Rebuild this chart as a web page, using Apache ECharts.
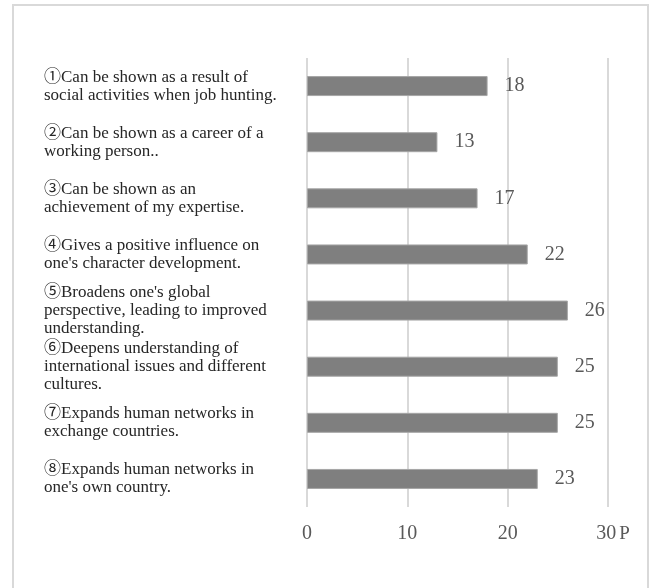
<!DOCTYPE html>
<html>
<head>
<meta charset="utf-8">
<script src="https://cdn.jsdelivr.net/npm/echarts@6/dist/echarts.min.js"></script>
<style>
  html, body { margin: 0; padding: 0; background: #ffffff; }
  #chart { width: 652px; height: 588px; }
</style>
</head>
<body>
<div id="chart"></div>
<script>
// Survey items (top to bottom) and number of responses
const categories = [
  "①Can be shown as a result of\nsocial activities when job hunting.",
  "②Can be shown as a career of a\nworking person..",
  "③Can be shown as an\nachievement of my expertise.",
  "④Gives a positive influence on\none's character development.",
  "⑤Broadens one's global\nperspective, leading to improved\nunderstanding.",
  "⑥Deepens understanding of\ninternational issues and different\ncultures.",
  "⑦Expands human networks in\nexchange countries.",
  "⑧Expands human networks in\none's own country."
];
const values = [18, 13, 17, 22, 26, 25, 25, 23];
const axisMin = 0;
const axisMax = 30;
const axisStep = 10;
const unitLabel = "P";

const serif = '"Liberation Serif", "DejaVu Serif", "Noto Sans CJK JP", serif';

const chart = echarts.init(document.getElementById('chart'), null, { renderer: 'canvas' });

chart.setOption({
  backgroundColor: '#ffffff',
  animation: false,
  graphic: [{
    type: 'rect',
    shape: { x: 13, y: 5, width: 635, height: 600 },
    style: { fill: 'none', stroke: '#d9d9d9', lineWidth: 2 },
    silent: true
  }],
  grid: { left: 307, right: 44, top: 58, bottom: 81 },
  xAxis: {
    type: 'value',
    min: axisMin,
    max: axisMax,
    interval: axisStep,
    axisLine: { show: false },
    axisTick: { show: false },
    splitLine: { show: true, lineStyle: { color: '#d9d9d9', width: 2 } },
    axisLabel: {
      margin: 17,
      fontFamily: serif,
      fontSize: 20,
      color: '#595959',
      formatter: function (v) {
        return v === axisMax ? '{pad|}' + v + '{u|' + unitLabel + '}' : String(v);
      },
      rich: {
        pad: { width: 10 },
        u: { fontFamily: serif, fontSize: 19, color: '#595959', padding: [0, 0, 0, 3] }
      }
    }
  },
  yAxis: {
    type: 'category',
    data: categories,
    inverse: true,
    axisLine: { show: false },
    axisTick: { show: false },
    splitLine: { show: false },
    axisLabel: {
      align: 'left',
      margin: 263,
      fontFamily: serif,
      fontSize: 17,
      lineHeight: 18,
      color: '#262626'
    }
  },
  series: [{
    type: 'bar',
    data: values,
    barWidth: 20,
    itemStyle: { color: '#7f7f7f', borderColor: '#a6a6a6', borderWidth: 1 },
    label: {
      show: true,
      position: 'right',
      distance: 17,
      fontFamily: serif,
      fontSize: 20,
      color: '#595959'
    }
  }]
});
</script>
</body>
</html>
